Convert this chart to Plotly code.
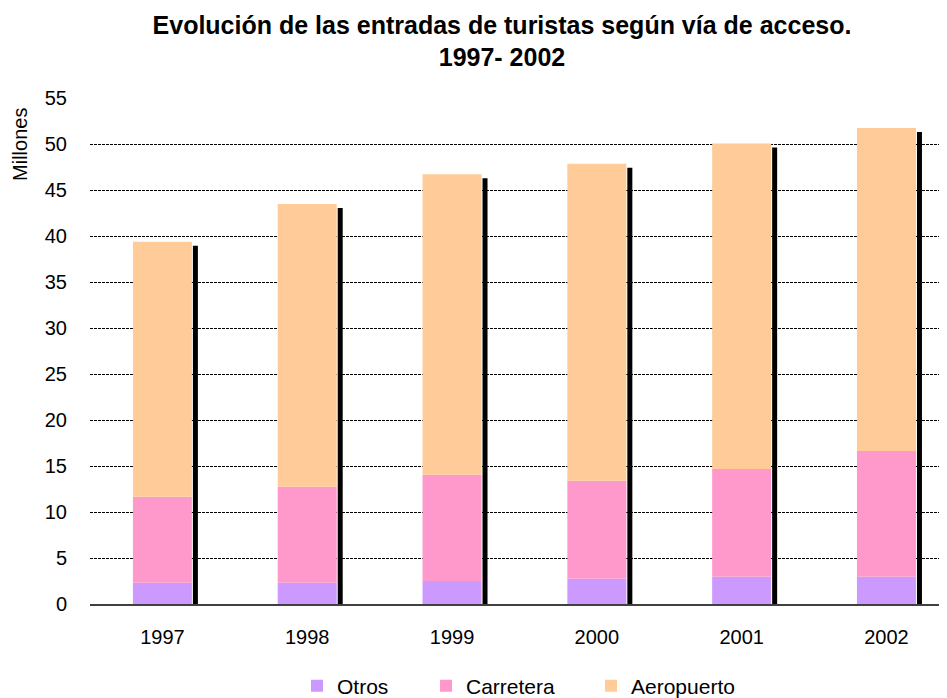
import plotly.graph_objects as go

years = ["1997", "1998", "1999", "2000", "2001", "2002"]
otros = [2.3, 2.3, 2.5, 2.75, 2.95, 2.95]
carretera = [9.36, 10.45, 11.56, 10.65, 11.74, 13.7]
aeropuerto = [27.72, 30.75, 32.68, 34.46, 35.37, 35.11]
y_ticks = [0, 5, 10, 15, 20, 25, 30, 35, 40, 45, 50, 55]

FONT = "Liberation Sans, Arial, sans-serif"
C_OTROS = "#CC99FF"
C_CARR = "#FF99CC"
C_AERO = "#FFCC99"

W, H = 939, 690  # page body adds an 8px margin around the figure

totals = [o + c + a for o, c, a in zip(otros, carretera, aeropuerto)]
base_carr = otros
base_aero = [o + c for o, c in zip(otros, carretera)]

BAR_W = 0.4075
fig = go.Figure()

# drop shadow behind each stacked column
fig.add_trace(go.Bar(
    x=years, y=[t - 0.435 for t in totals], base=0,
    width=0.0345, offset=0.2106,
    marker=dict(color="black", line=dict(width=0)),
    showlegend=False, hoverinfo="skip",
))
fig.add_trace(go.Bar(
    name="Otros", x=years, y=otros, base=0,
    width=BAR_W, offset=-BAR_W / 2,
    marker=dict(color=C_OTROS, line=dict(width=0)),
    legend="legend",
))
fig.add_trace(go.Bar(
    name="Carretera", x=years, y=carretera, base=base_carr,
    width=BAR_W, offset=-BAR_W / 2,
    marker=dict(color=C_CARR, line=dict(width=0)),
    legend="legend2",
))
fig.add_trace(go.Bar(
    name="Aeropuerto", x=years, y=aeropuerto, base=base_aero,
    width=BAR_W, offset=-BAR_W / 2,
    marker=dict(color=C_AERO, line=dict(width=0)),
    legend="legend3",
))

leg_common = dict(
    orientation="h", xref="container", yref="container",
    yanchor="middle", y=12 / H, xanchor="left",
    font=dict(family=FONT, size=21, color="black"),
    bgcolor="rgba(0,0,0,0)", borderwidth=0,
)

fig.update_layout(
    width=W, height=H,
    barmode="overlay",
    paper_bgcolor="white", plot_bgcolor="white",
    margin=dict(l=82, r=0, t=90, b=93.7),
    font=dict(family=FONT, size=20, color="black"),
    title=dict(
        text="<b>Evolución de las entradas de turistas según vía de acceso.<br>1997- 2002</b>",
        font=dict(family=FONT, size=25, color="black"),
        x=494 / W, xanchor="center", xref="container",
        y=1 - 25.5 / H, yanchor="top", yref="container",
    ),
    xaxis=dict(
        type="category", range=[-0.5, 5.418],
        showgrid=False, zeroline=False,
        showline=True, linecolor="#404040", linewidth=1.5,
        ticks="", ticklabelstandoff=14,
        tickfont=dict(family=FONT, size=20, color="black"),
    ),
    yaxis=dict(
        range=[0, 55.02], tickvals=y_ticks,
        showgrid=True, gridcolor="black", gridwidth=1, griddash="3px,1px",
        zeroline=False, showline=False,
        ticks="", ticklabelstandoff=22,
        tickfont=dict(family=FONT, size=20, color="black"),
    ),
    legend=dict(x=289 / W, **leg_common),
    legend2=dict(x=418 / W, **leg_common),
    legend3=dict(x=583 / W, **leg_common),
    annotations=[dict(
        text="Millones", textangle=-90,
        xref="paper", yref="paper",
        x=(12 - 82) / 857, y=(596.3 - 137) / 506.3,
        xanchor="center", yanchor="middle", showarrow=False,
        font=dict(family=FONT, size=20, color="black"),
    )],
)

fig.write_html("out.html")
